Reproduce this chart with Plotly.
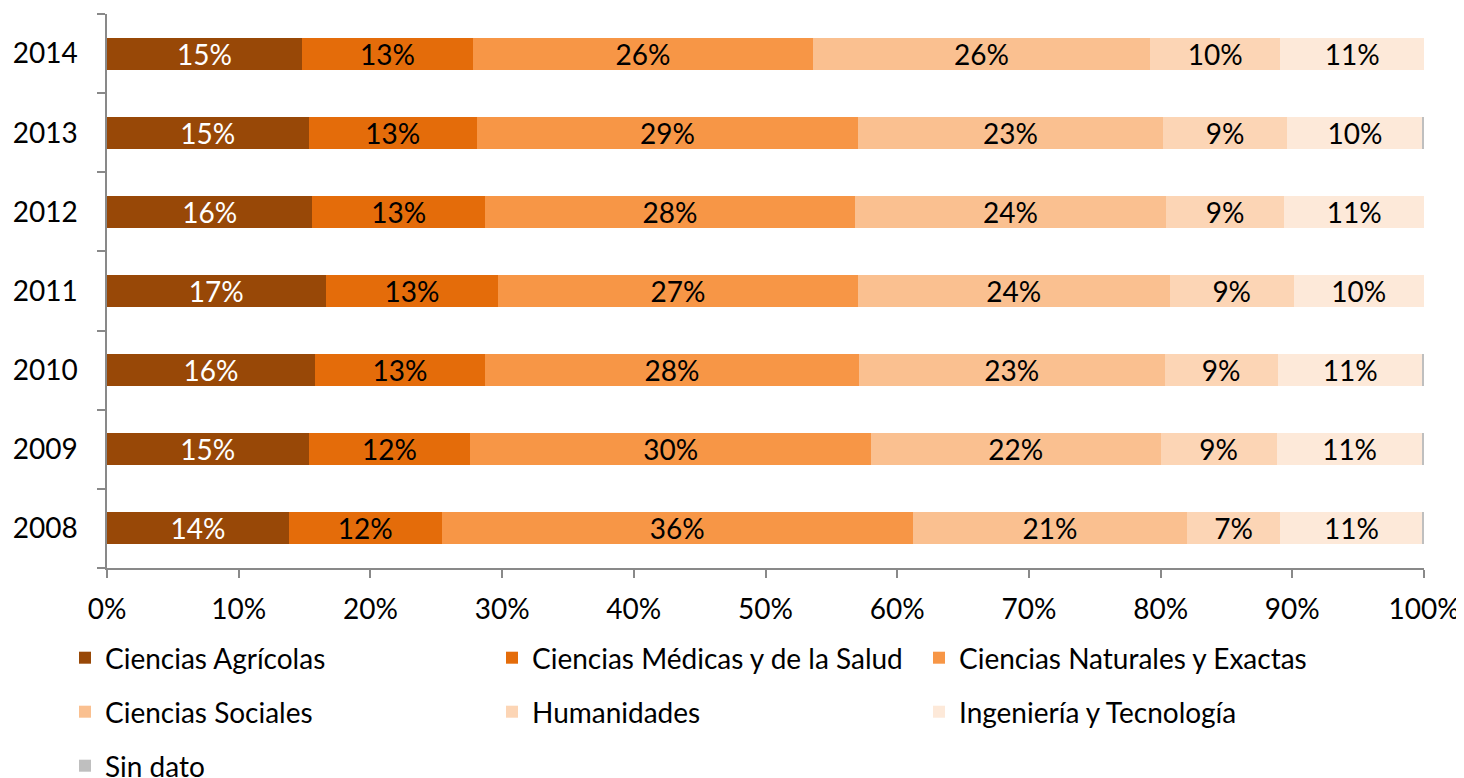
import plotly.graph_objects as go

years = ["2008", "2009", "2010", "2011", "2012", "2013", "2014"]

agricolas = [13.8, 15.3, 15.8, 16.6, 15.6, 15.3, 14.8]
medicas = [11.6, 12.3, 12.9, 13.1, 13.1, 12.8, 13.0]
naturales = [35.8, 30.4, 28.4, 27.3, 28.1, 28.9, 25.8]
sociales = [20.8, 22.0, 23.2, 23.7, 23.6, 23.2, 25.6]
humanidades = [7.1, 8.8, 8.6, 9.4, 9.0, 9.4, 9.9]
ingenieria = [10.8, 11.1, 11.0, 9.9, 10.6, 10.3, 10.9]
sin_dato = [0.1, 0.1, 0.1, 0.0, 0.0, 0.1, 0.0]

series_names = ["Ciencias Agrícolas", "Ciencias Médicas y de la Salud",
                "Ciencias Naturales y Exactas", "Ciencias Sociales",
                "Humanidades", "Ingeniería y Tecnología", "Sin dato"]
series_values = [agricolas, medicas, naturales, sociales, humanidades, ingenieria, sin_dato]
colors = ["#984807", "#E46C0A", "#F79646", "#FAC090", "#FCD5B5", "#FDE9D9", "#BFBFBF"]
text_colors = ["white", "black", "black", "black", "black", "black", "black"]
legend_ids = ["legend", "legend", "legend", "legend2", "legend2", "legend2", "legend3"]

x_ticks = [0, 10, 20, 30, 40, 50, 60, 70, 80, 90, 100]

FONT = "Lato"
FS = 28
W, H = 1456, 770  # page body adds an 8px offset

fig = go.Figure()
for name, vals, col, tcol, lg in zip(series_names, series_values, colors, text_colors, legend_ids):
    show_text = name != "Sin dato"
    fig.add_trace(go.Bar(
        y=years, x=vals, name=name, orientation="h",
        marker=dict(color=col, line=dict(width=0)),
        texttemplate="%{x:.0f}%" if show_text else "",
        textposition="inside" if show_text else "none",
        insidetextanchor="middle",
        textangle=0,
        constraintext="none",
        textfont=dict(family=FONT, size=FS, color=tcol),
        legend=lg,
    ))

axis_gray = "#898989"
fig.update_layout(
    barmode="stack",
    bargap=0.595,
    width=W, height=H,
    margin=dict(l=99, r=40, t=6, b=210, autoexpand=False),
    plot_bgcolor="white", paper_bgcolor="white",
    font=dict(family=FONT, size=FS, color="black"),
    xaxis=dict(
        range=[0, 100], tickvals=x_ticks, ticktext=[f"{v}%" for v in x_ticks],
        showgrid=False, zeroline=False, showline=True, linecolor=axis_gray, linewidth=1.5,
        ticks="outside", ticklen=8, tickcolor=axis_gray, tickwidth=1.5,
        ticklabelstandoff=8, tickfont=dict(family=FONT, size=FS), automargin=False,
    ),
    yaxis=dict(
        type="category", categoryorder="array", categoryarray=years,
        showgrid=False, zeroline=False, showline=True, linecolor=axis_gray, linewidth=1.5,
        ticks="outside", ticklen=8, tickcolor=axis_gray, tickwidth=1.5,
        tickson="boundaries", ticklabelstandoff=22, tickfont=dict(family=FONT, size=FS),
        automargin=False,
    ),
    showlegend=True,
)

leg_common = dict(orientation="h", entrywidth=382, entrywidthmode="pixels",
                  xref="container", yref="container", xanchor="left", yanchor="middle",
                  font=dict(family=FONT, size=FS), bgcolor="rgba(0,0,0,0)",
                  traceorder="normal")
fig.update_layout(
    legend=dict(x=57 / W, y=1 - 650 / H, **leg_common),
    legend2=dict(x=57 / W, y=1 - 704 / H, **leg_common),
    legend3=dict(x=57 / W, y=1 - 758 / H, **leg_common),
)

fig.write_html("out.html")
